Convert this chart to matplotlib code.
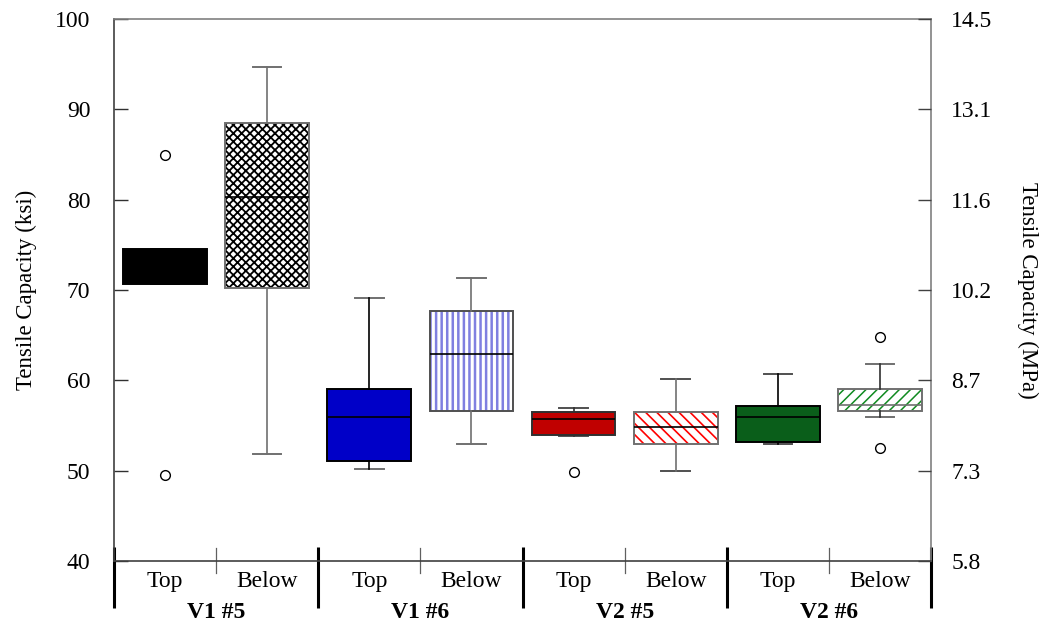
import matplotlib
matplotlib.use("Agg")
import matplotlib.pyplot as plt
import matplotlib.transforms as mtransforms

plt.rcParams['font.family'] = ['Liberation Serif', 'DejaVu Serif']
plt.rcParams['hatch.linewidth'] = 1.3

# ---- data (ksi) ----
groups = ["V1 #5", "V1 #6", "V2 #5", "V2 #6"]
sub_labels = ["Top", "Below", "Top", "Below", "Top", "Below", "Top", "Below"]
q1 = [70.7, 70.25, 51.1, 56.6, 54.0, 52.9, 53.2, 56.6]
med = [74.3, 80.3, 55.9, 62.9, 55.7, 54.8, 55.9, 57.3]
q3 = [74.5, 88.45, 59.0, 67.7, 56.5, 56.5, 57.2, 59.0]
whis_lo = [70.7, 51.9, 50.2, 52.9, 53.8, 50.0, 52.9, 55.9]
whis_hi = [74.5, 94.7, 69.1, 71.3, 56.9, 60.2, 60.7, 61.8]
outliers = [[84.9, 49.5], [], [], [], [49.8], [], [], [64.8, 52.5]]
ksi_ticks = [40, 50, 60, 70, 80, 90, 100]
mpa_labels = ["5.8", "7.3", "8.7", "10.2", "11.6", "13.1", "14.5"]

# ---- styles ----
face_colors = ["#000000", "none", "#0000c8", "none", "#c00000", "none", "#0a5e1a", "none"]
hatches = [None, "xxxx", None, "|||", None, "\\\\\\", None, "///"]
hatch_colors = [None, "#000000", None, "#8080e0", None, "#ff0000", None, "#108a20"]
hatch_lw = [None, 1.3, None, 1.8, None, 1.2, None, 1.1]
edge_colors = ["#000000", "#707070", "#000000", "#505050", "#303030", "#707070", "#000000", "#707070"]
whisker_colors = ["#000000", "#707070", "#000000", "#707070", "#303030", "#707070", "#000000", "#303030"]
cap_colors = ["#000000", "#707070", "#707070", "#707070", "#505050", "#505050", "#505050", "#707070"]

stats = []
for i in range(len(q1)):
    stats.append(dict(q1=q1[i], med=med[i], q3=q3[i], whislo=whis_lo[i],
                      whishi=whis_hi[i], fliers=outliers[i], label=sub_labels[i]))

fig = plt.figure(figsize=(10.45, 6.21), dpi=100)
ax = fig.add_axes([114/1045, 60/621, 817/1045, 542/621])

positions = list(range(1, len(stats) + 1))
width = 0.82

# hatch layer
hidx = [i for i in range(len(stats)) if hatches[i]]
res_h = ax.bxp([stats[i] for i in hidx], positions=[positions[i] for i in hidx],
               widths=width, patch_artist=True, showcaps=False, showfliers=False,
               medianprops=dict(linewidth=0), whiskerprops=dict(linewidth=0),
               boxprops=dict(linewidth=0), manage_ticks=False)
for k, i in enumerate(hidx):
    b = res_h['boxes'][k]
    b.set_facecolor('white')
    b.set_edgecolor(hatch_colors[i])
    b.set_linewidth(0)
    if hasattr(b, 'set_hatch_linewidth'):
        b.set_hatch_linewidth(hatch_lw[i])
    b.set_hatch(hatches[i])
    b.set_zorder(1.5)

# main layer
res = ax.bxp(stats, positions=positions, widths=width, capwidths=0.28,
             patch_artist=True, showfliers=True, manage_ticks=False,
             boxprops=dict(linewidth=1.4),
             medianprops=dict(color="#000000", linewidth=1.2),
             whiskerprops=dict(linewidth=1.2),
             capprops=dict(linewidth=1.4),
             flierprops=dict(marker='o', markersize=7, markerfacecolor='white',
                             markeredgecolor='#000000', markeredgewidth=1.0))
for i, b in enumerate(res['boxes']):
    b.set_facecolor(face_colors[i])
    b.set_edgecolor(edge_colors[i])
    b.set_zorder(2)
    for j in (2*i, 2*i+1):
        res['whiskers'][j].set_color(whisker_colors[i])
        res['caps'][j].set_color(cap_colors[i])
        res['caps'][j].set_zorder(1.8)
    res['medians'][i].set_zorder(3)
res['medians'][7].set_color("#707070")

ax.set_xlim(0.5, 8.5)
ax.set_ylim(40, 100)
ax.set_yticks(ksi_ticks)
ax.set_yticklabels([str(t) for t in ksi_ticks])
ax.tick_params(axis='y', direction='in', length=10, width=1.0, color='#303030',
               labelsize=17, pad=17)
ax.set_xticks(positions)
ax.set_xticklabels(sub_labels)
ax.tick_params(axis='x', length=0, labelsize=17, pad=7.5)

for s in ['left', 'bottom']:
    ax.spines[s].set_color('#404040')
    ax.spines[s].set_linewidth(1.2)
for s in ['top', 'right']:
    ax.spines[s].set_color('#808080')
    ax.spines[s].set_linewidth(1.2)

# right axis
ax2 = ax.twinx()
ax2.set_ylim(40, 100)
ax2.set_yticks(ksi_ticks)
ax2.set_yticklabels(mpa_labels)
ax2.tick_params(axis='y', direction='in', length=9.5, width=1.0, color='#404040',
                labelsize=17, pad=14.5)
for s in ax2.spines.values():
    s.set_visible(False)

# axis labels
ax.text(-0.1077, 0.5, "Tensile Capacity (ksi)", transform=ax.transAxes,
        rotation=90, ha='center', va='center', fontsize=16.5)
ax.text(1.1187, 0.5, "Tensile Capacity (MPa)", transform=ax.transAxes,
        rotation=270, ha='center', va='center', fontsize=16.5)

# category separators and group labels
trans = mtransforms.blended_transform_factory(ax.transData, ax.transAxes)
for g in range(len(groups)):
    xc = positions[2*g] + 0.5
    ax.plot([xc, xc], [0.024, -0.022], transform=trans, color='#606060',
            linewidth=0.9, clip_on=False)
    ax.text(xc, -0.095, groups[g], transform=trans, ha='center', va='center',
            fontsize=17, fontweight='bold')
for g in range(len(groups) + 1):
    xb = 0.5 + 2*g
    ax.plot([xb, xb], [0.026, -0.0867], transform=trans, color='#000000',
            linewidth=2.2, clip_on=False, solid_capstyle='butt')

fig.savefig("out.png", dpi=100)
